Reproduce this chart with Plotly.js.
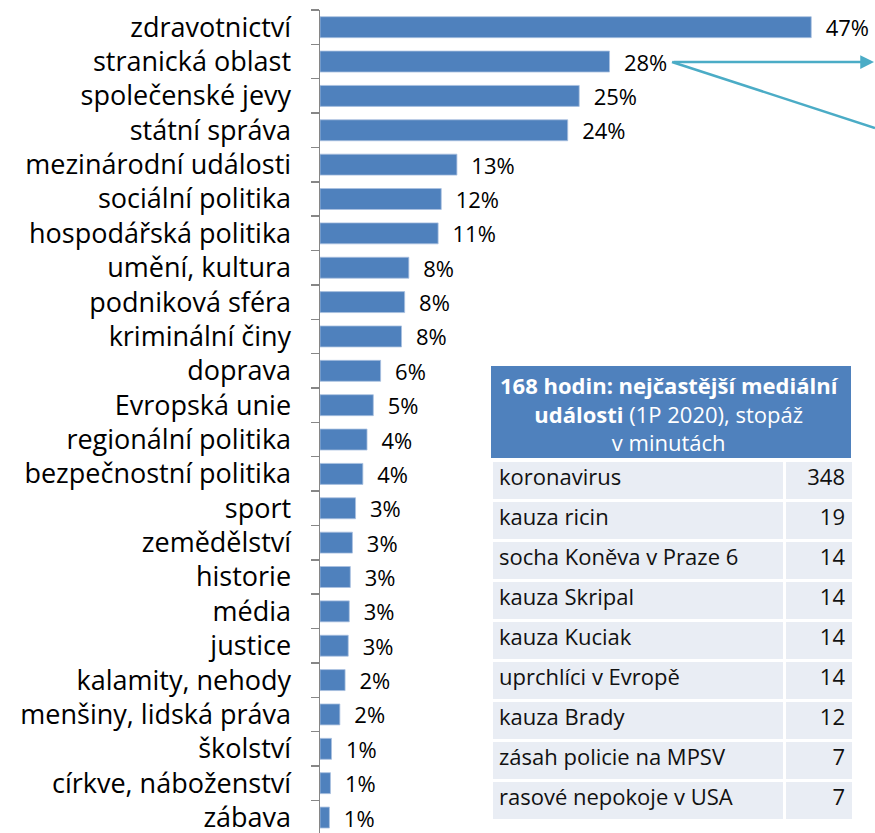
<!DOCTYPE html>
<html><head><meta charset="utf-8">
<script src="https://cdn.plot.ly/plotly-3.0.1.min.js"></script>
<style>html,body{margin:0;padding:0;background:#fff}</style>
</head><body><div id="chart" style="width:875px;height:833px"></div>
<script>
const categories = ["zdravotnictví","stranická oblast","společenské jevy","státní správa","mezinárodní události","sociální politika","hospodářská politika","umění, kultura","podniková sféra","kriminální činy","doprava","Evropská unie","regionální politika","bezpečnostní politika","sport","zemědělství","historie","média","justice","kalamity, nehody","menšiny, lidská práva","školství","církve, náboženství","zábava"];
const values = [47.0,27.7,24.8,23.7,13.1,11.6,11.3,8.5,8.1,7.8,5.8,5.1,4.5,4.1,3.4,3.1,2.9,2.8,2.7,2.4,1.9,1.1,1.0,0.9];
const valueLabels = ["47%","28%","25%","24%","13%","12%","11%","8%","8%","8%","6%","5%","4%","4%","3%","3%","3%","3%","3%","2%","2%","1%","1%","1%"];
const tableTitle = "<b>168 hodin: nejčastější mediální</b><br><b>události</b> (1P 2020), stopáž<br>v minutách";
const events = ["koronavirus","kauza ricin","socha Koněva v Praze 6","kauza Skripal","kauza Kuciak","uprchlíci v Evropě","kauza Brady","zásah policie na MPSV","rasové nepokoje v USA"];
const minutes = [348,19,14,14,14,14,12,7,7];

const FONT = "'Open Sans', sans-serif";
const W = 875, H = 833, ML = 320, MT = 10;
const px = x => (x - ML) / (W - ML);
const py = y => (H - y) / (H - MT);

const bars = {
  type: "bar", orientation: "h",
  x: values, y: categories,
  text: valueLabels.map(s => "\u00a0\u00a0" + s),
  textposition: "outside", constraintext: "none", cliponaxis: false,
  textfont: {family: FONT, size: 22, color: "#000"},
  marker: {color: "#4F81BD", line: {color: "#A9C0E0", width: 0.8}},
  width: 0.61, hoverinfo: "skip"
};

const body = {
  type: "table",
  domain: {x: [px(491), px(853)], y: [py(824), py(460)]},
  columnwidth: [292, 68],
  header: {values: [events[0], String(minutes[0])], align: ["left","right"], height: 40,
    fill: {color: "#E9EDF4"}, line: {color: "#fff", width: 3},
    font: {family: FONT, size: 22, color: "#111"}},
  cells: {values: [events.slice(1), minutes.slice(1).map(String)], align: ["left","right"], height: 40,
    fill: {color: "#E9EDF4"}, line: {color: "#fff", width: 3},
    font: {family: FONT, size: 22, color: "#111"}}
};

const layout = {
  width: W, height: H,
  margin: {l: ML, r: 0, t: MT, b: 0, pad: 0},
  paper_bgcolor: "#fff", plot_bgcolor: "#fff",
  showlegend: false,
  xaxis: {range: [0, 53.1], visible: false, fixedrange: true},
  yaxis: {type: "category", range: [23.45, -0.5], tickson: "boundaries",
    ticks: "outside", ticklen: 8, tickwidth: 1.5, tickcolor: "#868686",
    showline: true, linecolor: "#868686", linewidth: 1.5, showgrid: false, zeroline: false,
    ticklabelstandoff: 22,
    tickfont: {family: FONT, size: 27, color: "#000"}},
  shapes: [
    {type: "rect", xref: "paper", yref: "paper", x0: px(491), x1: px(851), y0: py(458), y1: py(366),
     fillcolor: "#4F81BD", line: {width: 0}, layer: "above"},
    {type: "line", xref: "paper", yref: "paper", x0: px(672), y0: py(62), x1: px(875), y1: py(128),
     line: {color: "#4BACC6", width: 2.5}}
  ],
  annotations: [
    {xref: "paper", yref: "paper", x: px(669), y: py(413), xanchor: "center", yanchor: "middle",
     text: tableTitle, showarrow: false, align: "center",
     font: {family: FONT, size: 22, color: "#fff"}},
    {xref: "paper", yref: "paper", x: px(874), y: py(62), ax: -202, ay: 0, axref: "pixel", ayref: "pixel",
     text: "", showarrow: true, arrowhead: 2, arrowsize: 1.1, arrowwidth: 2.5, arrowcolor: "#4BACC6"}
  ]
};

Plotly.newPlot("chart", [bars, body], layout, {displayModeBar: false, staticPlot: true});
</script></body></html>
